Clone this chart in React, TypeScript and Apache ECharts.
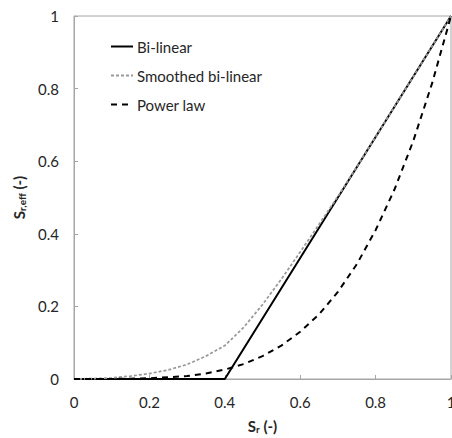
import React, { useEffect, useRef } from "react";
import * as echarts from "echarts";

const xTicks = [0, 0.2, 0.4, 0.6, 0.8, 1];
const yTicks = [0, 0.2, 0.4, 0.6, 0.8, 1];

const seriesNames = ["Bi-linear", "Smoothed bi-linear", "Power law"];

const bilinear: [number, number][] = [
  [0, 0],
  [0.4, 0],
  [1, 1],
];

const smoothed: [number, number][] = [
  [0, 0], [0.05, 0.001], [0.1, 0.003], [0.15, 0.008], [0.2, 0.015], [0.25, 0.025],
  [0.3, 0.04], [0.35, 0.063], [0.4, 0.092], [0.45, 0.142], [0.5, 0.205],
  [0.55, 0.275], [0.6, 0.35], [0.65, 0.426], [0.7, 0.503], [0.75, 0.584],
  [0.8, 0.667], [0.85, 0.75], [0.9, 0.833], [0.95, 0.917], [1, 1],
];

const powerLaw: [number, number][] = [
  [0, 0], [0.1, 0.0001], [0.2, 0.002], [0.3, 0.008], [0.35, 0.015], [0.4, 0.026],
  [0.45, 0.041], [0.5, 0.063], [0.55, 0.092], [0.6, 0.13], [0.65, 0.178],
  [0.7, 0.24], [0.75, 0.316], [0.8, 0.41], [0.85, 0.522], [0.9, 0.656],
  [0.95, 0.815], [1, 1],
];

const FONT = "Lato, 'Noto Sans', sans-serif";
const TEXT = "#262626";
const AXIS = "#a6a6a6";

export default function App() {
  const ref = useRef<HTMLDivElement>(null);
  useEffect(() => {
    if (!ref.current) return;
    const chart = echarts.init(ref.current, null, { renderer: "svg" });
    const rich = {
      main: { fontSize: 15, fontWeight: "bold", fontFamily: FONT, color: TEXT },
      sub: {
        fontSize: 10,
        fontWeight: "bold",
        fontFamily: FONT,
        color: TEXT,
        padding: [6, 0, 0, 0],
      },
    };
    chart.setOption({
      animation: false,
      backgroundColor: "#fff",
      grid: {
        left: 74,
        right: 1,
        top: 16,
        bottom: 59,
        outerBoundsMode: "none",
        containLabel: false,
        show: true,
        borderColor: AXIS,
        borderWidth: 1,
      },
      legend: {
        orient: "vertical",
        left: 105,
        top: 34,
        itemWidth: 22,
        itemHeight: 14,
        itemGap: 14,
        data: seriesNames,
        itemStyle: { opacity: 0 },
        textStyle: { fontFamily: FONT, fontSize: 15, color: TEXT, padding: [0, 0, 0, -1] },
      },
      xAxis: {
        type: "value",
        min: xTicks[0],
        max: xTicks[xTicks.length - 1],
        interval: 0.2,
        name: "{main|S}{sub|r}{main| (-)}",
        nameLocation: "middle",
        nameGap: 39,
        nameTextStyle: { rich },
        axisLine: { show: true, lineStyle: { color: AXIS } },
        axisTick: { show: true, inside: true, length: 4, lineStyle: { color: AXIS } },
        splitLine: { show: false },
        axisLabel: {
          margin: 15,
          fontFamily: FONT,
          fontSize: 15,
          color: TEXT,
          formatter: (v: number) => String(Math.round(v * 10) / 10),
        },
      },
      yAxis: {
        type: "value",
        min: yTicks[0],
        max: yTicks[yTicks.length - 1],
        interval: 0.2,
        name: "{main|S}{sub|r,eff}{main| (-)}",
        nameLocation: "middle",
        nameGap: 27,
        nameRotate: 90,
        nameTextStyle: { rich },
        axisLine: { show: true, lineStyle: { color: AXIS } },
        axisTick: { show: true, inside: true, length: 4, lineStyle: { color: AXIS } },
        splitLine: { show: false },
        axisLabel: {
          margin: 15,
          fontFamily: FONT,
          fontSize: 15,
          color: TEXT,
          formatter: (v: number) => String(Math.round(v * 10) / 10),
        },
      },
      series: [
        {
          name: seriesNames[0],
          type: "line",
          data: bilinear,
          symbol: "none",
          lineStyle: { color: "#000", width: 2, type: "solid" },
          itemStyle: { color: "#000" },
        },
        {
          name: seriesNames[1],
          type: "line",
          data: smoothed,
          symbol: "none",
          lineStyle: { color: "#999999", width: 1.75, type: [3, 2] },
          itemStyle: { color: "#999999" },
        },
        {
          name: seriesNames[2],
          type: "line",
          data: powerLaw,
          symbol: "none",
          lineStyle: { color: "#000", width: 2, type: [6, 5] },
          itemStyle: { color: "#000" },
        },
      ],
    });
    return () => chart.dispose();
  }, []);
  return <div ref={ref} style={{ width: 452, height: 438, position: "absolute", left: 0, top: 0 }} />;
}
